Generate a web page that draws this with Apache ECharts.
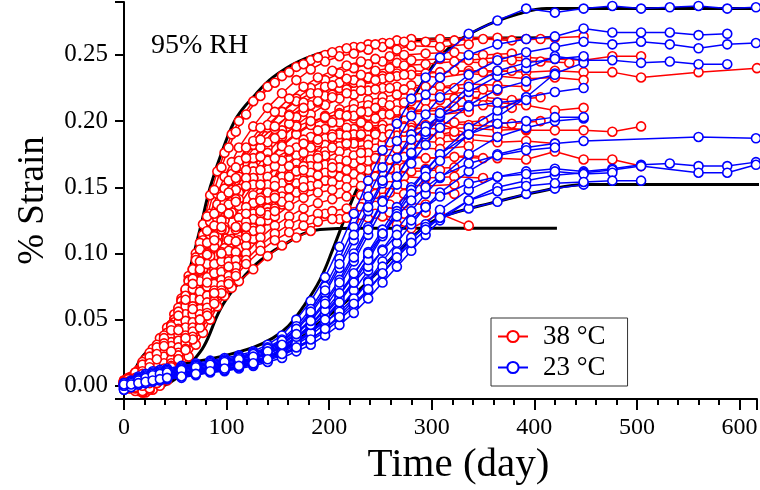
<!DOCTYPE html>
<html><head><meta charset="utf-8">
<script src="https://cdn.jsdelivr.net/npm/echarts@6/dist/echarts.min.js"></script>
<style>html,body{margin:0;padding:0;background:#fff}#c{width:760px;height:490px}</style>
</head><body><div id="c"></div>
<script>
// ---- tick labels ----
const xMajorTicks = [0,100,200,300,400,500,600];
const yTicks = [0,0.05,0.10,0.15,0.20,0.25];

// ---- sample days ----
const redDaysA = [0,7,14,21,28,35,42,49,56,63,70,77,84,91,98,105,112,126,140,154,168,182,196,210,224,238,252,266,280,308,336,364,392,420,448,476,504,560,617];
const redDaysB = [0,4,11,18,25,32,39,46,53,60,67,74,81,88,95,102,109,119,133,147,161,175,189,203,217,231,245,259,273,294,322,350,378,406,434,462,490];
const blueDays = [0,7,14,21,28,35,42,56,70,84,98,112,126,140,154,168,182,196,210,224,238,252,266,280,294,308,336,364,392,420,448,476,504,532,560,588,616];

// ---- 38 °C specimens (schedule A) ----
const r01 = [.002,.006,.012,.02,.028,.036,.044,.054,.066,.083,.1,.122,.144,.162,.176,.19,.2,.215,.226,.234,.241,.246,.25,.253,.256,.258,.259,.261,.262,.262,.263,.263,.262,.263,.264];
const r02 = [.004,.007,.011,.016,.022,.029,.038,.05,.064,.08,.097,.114,.13,.145,.158,.169,.18,.196,.21,.221,.231,.239,.245,.249,.251,.254,.256,.254,.257,.256,.258];
const r03 = [.001,.005,.009,.014,.02,.027,.036,.047,.06,.074,.09,.104,.118,.131,.144,.156,.166,.182,.195,.207,.217,.225,.231,.236,.24,.243,.245,.244,.246,.247,.246,.248,.248,.247,.246,.249,.249];
const r04 = [.0,.004,.008,.012,.017,.023,.031,.04,.051,.063,.077,.09,.103,.115,.127,.139,.149,.166,.18,.193,.203,.212,.219,.225,.229,.232,.234,.236,.238,.237,.238,.238,.237,.238,.237,.237,.233,.237,.24];
const r05 = [.003,.006,.01,.015,.021,.028,.038,.05,.064,.079,.095,.11,.124,.137,.149,.16,.17,.185,.197,.207,.215,.221,.226,.229,.231,.233,.232,.234,.235,.233,.236,.234,.232,.233,.231];
const r06 = [.002,.004,.007,.011,.016,.022,.03,.039,.05,.062,.075,.088,.101,.113,.125,.136,.146,.162,.176,.188,.197,.205,.212,.217,.22,.223,.225,.226,.227,.226,.228,.227,.226];
const r07 = [.0,.003,.006,.009,.013,.018,.024,.032,.042,.053,.066,.079,.092,.105,.118,.13,.14,.157,.171,.182,.191,.198,.204,.209,.213,.216,.218,.22,.221,.22,.222,.223];
const r08 = [.003,.005,.008,.012,.016,.021,.028,.037,.047,.058,.07,.083,.096,.108,.12,.131,.141,.157,.17,.181,.19,.197,.202,.206,.209,.212,.214,.213,.215,.216,.218,.214,.212,.208,.21];
const r09 = [.001,.003,.005,.008,.012,.016,.021,.028,.036,.045,.056,.068,.08,.092,.104,.116,.127,.144,.158,.17,.18,.188,.194,.199,.202,.204,.206,.207,.207,.208,.208];
const r10 = [.002,.004,.006,.009,.013,.017,.022,.029,.037,.046,.056,.067,.078,.089,.1,.111,.121,.138,.152,.164,.174,.181,.187,.191,.194,.196,.197,.198,.197,.199,.197,.196,.193,.193,.193,.192,.196];
const r11 = [.0,.002,.004,.007,.01,.014,.019,.025,.032,.04,.049,.059,.07,.081,.092,.103,.113,.13,.145,.158,.168,.176,.182,.187,.19,.192,.194,.193,.195,.194,.195,.193,.194];
const r12 = [.003,.004,.006,.008,.011,.015,.02,.026,.033,.041,.05,.06,.07,.08,.09,.1,.11,.126,.141,.153,.163,.171,.177,.181,.184,.186,.188,.189,.19,.189,.19,.188];
const r13 = [.001,.002,.004,.006,.009,.012,.016,.021,.027,.034,.042,.051,.061,.071,.081,.092,.102,.119,.134,.147,.158,.166,.172,.177,.18,.182,.183,.184,.185,.184,.186,.184,.185,.183];
const r14 = [.002,.003,.005,.007,.01,.013,.017,.022,.028,.035,.043,.052,.062,.072,.082,.092,.101,.117,.131,.143,.153,.161,.167,.171,.174,.176,.178,.179,.18,.179,.181];
const r15 = [.0,.002,.003,.005,.008,.011,.015,.02,.026,.033,.041,.05,.059,.068,.077,.086,.095,.111,.125,.137,.147,.155,.161,.165,.168,.17,.171,.172,.173,.172,.174,.172,.171,.177,.171,.171,.166];
const r29 = [.0,-.002,-.004,-.005,-.003,.0,.004,.009,.015,.022,.031,.04,.05,.06,.068,.074,.079,.088,.098,.106,.112,.117,.13,.126,.125,.127,.128,.122,.119,.13,.121];
const r32 = [.001,.002,.003,.005,.009,.014,.02,.027,.035,.044,.053,.062,.071,.08,.089,.097,.104,.117,.129,.139,.146,.151,.155,.158,.16,.163,.161,.164,.162,.163];
const r33 = [.003,.006,.011,.017,.023,.03,.038,.048,.06,.074,.088,.1,.114,.126,.138,.148,.158,.172,.184,.19,.196,.2,.203,.205,.204,.207,.205,.208,.206,.205,.207];
const r35 = [.002,.004,.008,.013,.019,.026,.04,.036,.056,.05,.076,.068,.098,.09,.118,.108,.136,.152,.146,.17,.162,.18,.174,.19,.183,.196,.188,.2,.193,.198,.19];
// ---- 38 °C specimens (schedule B) ----
const r16 = [.004,.006,.01,.018,.025,.031,.038,.046,.058,.072,.088,.108,.128,.148,.165,.18,.192,.205,.219,.229,.237,.243,.248,.252,.255,.256,.258,.259,.26,.26,.261,.262,.261,.262];
const r17 = [.0,.004,.008,.013,.019,.026,.035,.046,.059,.073,.088,.103,.117,.13,.143,.155,.165,.18,.195,.207,.217,.226,.233,.238,.242,.245,.247,.249,.25,.251,.252,.25,.251];
const r18 = [.002,.003,.006,.01,.015,.021,.028,.037,.048,.06,.073,.087,.1,.113,.125,.137,.148,.163,.18,.194,.205,.214,.221,.227,.232,.235,.238,.24,.242,.243,.245,.244,.246,.245,.244];
const r19 = [.004,.005,.007,.01,.014,.019,.025,.033,.043,.054,.066,.079,.092,.105,.118,.13,.141,.157,.173,.187,.198,.207,.214,.22,.224,.228,.231,.233,.235,.236,.238,.237,.238];
const r20 = [.001,.002,.004,.007,.011,.015,.021,.028,.036,.045,.055,.066,.077,.088,.099,.11,.12,.135,.152,.166,.177,.186,.193,.199,.204,.207,.21,.212,.214,.215,.217,.218,.216,.218];
const r21 = [.003,.004,.005,.007,.01,.014,.018,.024,.031,.039,.048,.058,.068,.078,.089,.099,.109,.124,.141,.155,.166,.176,.184,.19,.195,.199,.202,.205,.207,.209,.211,.212,.21];
const r22 = [.0,.001,.003,.005,.008,.011,.015,.02,.026,.033,.041,.05,.059,.069,.079,.089,.099,.114,.13,.144,.156,.166,.174,.18,.185,.189,.192,.194,.196,.197,.199,.2,.198,.2];
const r23 = [.002,.003,.004,.007,.011,.016,.022,.03,.039,.049,.06,.071,.082,.092,.101,.11,.118,.13,.142,.151,.158,.163,.166,.168,.17,.171,.172,.171,.173,.172,.173,.172];
const r24 = [.0,-.002,-.003,.001,.006,.011,.017,.025,.034,.044,.054,.065,.075,.085,.094,.102,.109,.12,.132,.142,.149,.155,.159,.161,.163,.164,.165,.164,.165,.164,.165];
const r25 = [.003,.002,.0,-.002,.002,.007,.013,.02,.029,.038,.048,.058,.068,.077,.086,.094,.101,.112,.124,.134,.142,.148,.152,.154,.156,.157,.158,.157,.158,.157,.158,.157];
const r26 = [.001,.0,-.003,-.005,-.002,.004,.01,.017,.025,.034,.044,.054,.063,.072,.08,.088,.095,.106,.118,.128,.136,.142,.146,.148,.15,.151,.152,.151,.152,.151,.152];
const r27 = [.0,-.001,-.004,-.005,-.003,.002,.008,.015,.023,.032,.041,.05,.059,.068,.076,.083,.09,.1,.112,.121,.128,.134,.138,.141,.143,.144,.145,.146,.145,.146,.145];
const r28 = [.002,.0,-.002,-.004,-.002,.002,.007,.013,.02,.028,.037,.046,.055,.064,.072,.079,.085,.095,.106,.115,.122,.127,.13,.132,.134,.135,.136,.137,.138,.137];
const r30 = [.001,.0,-.001,.0,.002,.005,.009,.014,.02,.027,.035,.044,.053,.062,.07,.077,.083,.092,.102,.11,.116,.121,.124,.126,.127,.129,.13,.131,.13,.131];
const r31 = [.002,.005,.01,.016,.022,.029,.036,.045,.056,.068,.081,.094,.108,.121,.134,.146,.157,.172,.186,.196,.204,.21,.215,.218,.221,.223,.224,.225,.224,.226,.225,.224];
const r34 = [.0,.003,.006,.011,.017,.024,.032,.042,.053,.065,.077,.088,.099,.11,.12,.13,.139,.151,.163,.172,.178,.183,.186,.188,.189,.19,.191,.19,.192,.19,.189];
const r36 = [.001,.003,.005,.009,.014,.02,.03,.026,.042,.036,.058,.05,.078,.07,.1,.09,.12,.112,.14,.132,.158,.15,.172,.165,.183,.176,.19,.184,.195,.188,.192];

// ---- 23 °C specimens ----
const b01 = [.0,.004,.007,.009,.011,.012,.013,.015,.017,.019,.021,.023,.026,.031,.038,.05,.064,.082,.105,.13,.155,.178,.198,.217,.233,.248,.266,.276,.285,.282,.285,.287,.285,.286,.287,.285,.286];
const b02 = [-.002,.003,.006,.008,.01,.011,.012,.014,.016,.018,.02,.022,.025,.029,.035,.045,.058,.075,.096,.12,.143,.165,.185,.204,.22,.233,.25,.258,.262,.264,.27,.267,.267,.267,.265,.266];
const b03 = [.0,.002,.004,.006,.008,.01,.011,.013,.015,.017,.019,.021,.024,.028,.033,.042,.054,.07,.089,.11,.132,.153,.172,.19,.205,.218,.235,.246,.252,.256,.26,.258,.26,.258,.255,.258,.259];
const b04 = [.001,.003,.005,.007,.008,.009,.01,.012,.014,.016,.018,.02,.023,.027,.032,.04,.05,.064,.08,.1,.12,.14,.158,.175,.19,.203,.222,.234,.24,.249,.246,.246,.244,.245,.243,.243];
const b05 = [.0,.002,.003,.005,.006,.008,.009,.011,.013,.015,.017,.019,.021,.025,.03,.036,.044,.055,.068,.084,.101,.118,.135,.15,.163,.175,.19,.203,.218,.236,.244];
const b06 = [-.001,.001,.003,.004,.006,.007,.008,.01,.012,.014,.016,.018,.02,.024,.029,.036,.046,.059,.075,.094,.114,.134,.152,.168,.182,.195,.212,.224,.23,.235];
const b07 = [.002,.003,.004,.005,.006,.007,.008,.009,.011,.013,.015,.017,.019,.022,.027,.033,.041,.051,.064,.08,.097,.115,.132,.148,.162,.175,.195,.208,.218,.222,.225];
const b08 = [.0,.001,.002,.003,.004,.005,.006,.008,.01,.012,.014,.016,.018,.021,.025,.031,.038,.047,.058,.072,.087,.103,.118,.132,.145,.157,.175,.188,.195,.2,.202];
const b09 = [-.002,.0,.002,.003,.004,.005,.006,.008,.01,.012,.014,.016,.018,.02,.024,.029,.035,.043,.053,.065,.079,.094,.108,.122,.135,.146,.162,.175,.18,.183,.185,null,null,null,.188,null,.187];
const b10 = [.0,.001,.002,.003,.004,.005,.006,.007,.009,.011,.012,.014,.016,.019,.023,.028,.034,.041,.05,.06,.072,.085,.098,.11,.122,.133,.148,.158,.162,.164,.162,.164,.167,.168,.166,.166,.169];
const b11 = [-.003,-.001,.001,.002,.003,.004,.005,.006,.008,.01,.011,.013,.015,.018,.021,.026,.031,.038,.046,.055,.066,.078,.09,.102,.114,.125,.14,.15,.155,.159,.161,.163,.166,null,.161,.161,.167];
const b12 = [.001,.002,.003,.004,.005,.006,.007,.009,.011,.013,.015,.017,.02,.024,.029,.036,.044,.054,.066,.078,.09,.102,.114,.125,.135,.143,.153,.158,.16,.162,.16,.161];
const b13 = [-.003,-.001,.001,.002,.004,.005,.006,.008,.009,.011,.012,.014,.016,.022,.028,.034,.041,.048,.056,.066,.078,.09,.101,.112,.12,.127,.134,.139,.145,.149,.152];
const b14 = [.001,.002,.003,.004,.005,.006,.007,.009,.011,.013,.015,.017,.019,.022,.026,.032,.04,.05,.063,.078,.095,.113,.13,.145,.158,.17,.19,.198,.2,.203,.203];
const b15 = [.0,.003,.005,.007,.009,.01,.011,.013,.015,.017,.019,.021,.024,.028,.034,.043,.056,.072,.092,.114,.135,.155,.172,.186,.196,.204,.211,.214,.216];
const b16 = [.002,.003,.004,.005,.006,.007,.008,.01,.012,.014,.016,.018,.021,.025,.03,.037,.046,.057,.07,.085,.1,.115,.128,.14,.15,.158,.168,.174,.178,.18];
const b17 = [.0,.002,.004,.006,.008,.009,.01,.012,.014,.016,.018,.02,.022,.026,.031,.039,.049,.062,.078,.097,.118,.139,.158,.176,.192,.206,.226,.238,.244,.247,.249];
const b18 = [.001,.001,.002,.003,.004,.005,.006,.007,.009,.011,.013,.015,.017,.02,.024,.029,.035,.043,.052,.062,.073,.085,.097,.108,.118,.127,.14,.147,.151,.153,.154,.155,.155];

// ---- bounding curves ----
const envRedUpper = [[0,0],[8,.008],[16,.02],[25,.028],[35,.037],[48,.053],[61,.08],[74,.118],[84,.15],[97,.18],[110,.203],[128,.22],[145,.233],[170,.245],[200,.253],[247,.259],[300,.262],[420,.263]];
const envRedLower = [[30,-.003],[50,.005],[65,.017],[78,.03],[94,.058],[110,.076],[126,.09],[142,.1],[159,.108],[175,.115],[191,.118],[230,.119],[422,.119]];
const envBlueUpper = [[0,0],[6,.005],[28,.012],[61,.017],[94,.022],[126,.029],[145,.036],[160,.045],[175,.06],[191,.08],[204,.104],[217,.13],[230,.153],[250,.177],[282,.218],[311,.251],[347,.27],[389,.282],[412,.285],[620,.285]];
const envBlueLower = [[0,-.003],[20,.002],[45,.005],[77,.01],[110,.014],[142,.022],[172,.036],[191,.048],[211,.06],[230,.073],[250,.088],[269,.103],[288,.117],[308,.127],[347,.136],[363,.139],[412,.148],[451,.152],[620,.152]];

const redA = [r01,r02,r03,r04,r05,r06,r07,r08,r09,r10,r11,r12,r13,r14,r15,r29,r32,r33,r35];
const redB = [r16,r17,r18,r19,r20,r21,r22,r23,r24,r25,r26,r27,r28,r30,r31,r34,r36];
const blues = [b01,b02,b03,b04,b05,b06,b07,b08,b09,b10,b11,b12,b13,b14,b15,b16,b17,b18];

const FONT = 'Liberation Serif';
const RED = '#ff0000', BLUE = '#0000ff';
function zip(days, ys){ return ys.map((y,i)=>[days[i], y]).filter(p=>p[1]!==null); }
function spec(name, color, data, z){
  return {type:'line', name, data, z, symbol:'circle', symbolSize:9, showSymbol:true,
    connectNulls:true, lineStyle:{color, width:1.5}, itemStyle:{color:'#fff', borderColor:color, borderWidth:1.6},
    emphasis:{disabled:true}, animation:false};
}
function env(data){
  return {type:'line', data, z:1, symbol:'none', smooth:0.4, lineStyle:{color:'#000', width:3}, emphasis:{disabled:true}, animation:false, silent:true};
}
const series = [];
[envRedUpper, envRedLower, envBlueUpper, envBlueLower].forEach(e=>series.push(env(e)));
redA.forEach(r=>series.push(spec('38 °C', RED, zip(redDaysA, r), 2)));
redB.forEach(r=>series.push(spec('38 °C', RED, zip(redDaysB, r), 2)));
blues.forEach(b=>series.push(spec('23 °C', BLUE, zip(blueDays, b), 3)));

const chart = echarts.init(document.getElementById('c'), null, {renderer:'canvas'});
chart.setOption({
  animation:false,
  backgroundColor:'#fff',
  grid:{left:124, right:3, top:2, bottom:91, containLabel:false, outerBoundsMode:'none'},
  title:{text:'95% RH', left:146, top:27, textStyle:{fontFamily:FONT, fontSize:28, fontWeight:'normal', color:'#000'}},
  legend:{data:['38 °C','23 °C'], orient:'vertical', left:491, top:318, backgroundColor:'#fff',
    borderColor:'#333', borderWidth:1, padding:[5,22,5,6], itemGap:4, itemWidth:30, itemHeight:14,
    textStyle:{fontFamily:FONT, fontSize:27, color:'#000', padding:[0,0,0,10]}},
  xAxis:{type:'value', min:0, max:617, interval:100, name:'Time (day)', nameLocation:'middle', nameGap:41,
      nameTextStyle:{fontFamily:FONT, fontSize:41, color:'#000', padding:[0,0,0,36]},
      axisLine:{show:true, onZero:false, lineStyle:{color:'#000', width:2}},
      axisTick:{show:true, inside:false, length:11, lineStyle:{color:'#000', width:2}},
      minorTick:{show:true, splitNumber:5, length:6, lineStyle:{color:'#000', width:2}},
      axisLabel:{fontFamily:FONT, fontSize:24, color:'#000', margin:17, customValues:xMajorTicks},
      splitLine:{show:false}, minorSplitLine:{show:false}},
  yAxis:{type:'value', min:-0.01, max:0.29, minInterval:0.05, maxInterval:0.05, name:'% Strain', nameLocation:'middle', nameGap:72, nameRotate:90,
      nameTextStyle:{fontFamily:FONT, fontSize:37, color:'#000'},
      axisLine:{show:true, onZero:false, lineStyle:{color:'#000', width:2}},
      axisTick:{show:true, inside:false, length:9, lineStyle:{color:'#000', width:2}},
      axisLabel:{fontFamily:FONT, fontSize:25, color:'#000', margin:16, customValues:yTicks, formatter:v=>v.toFixed(2)},
      splitLine:{show:false}},
  series
});
</script></body></html>
